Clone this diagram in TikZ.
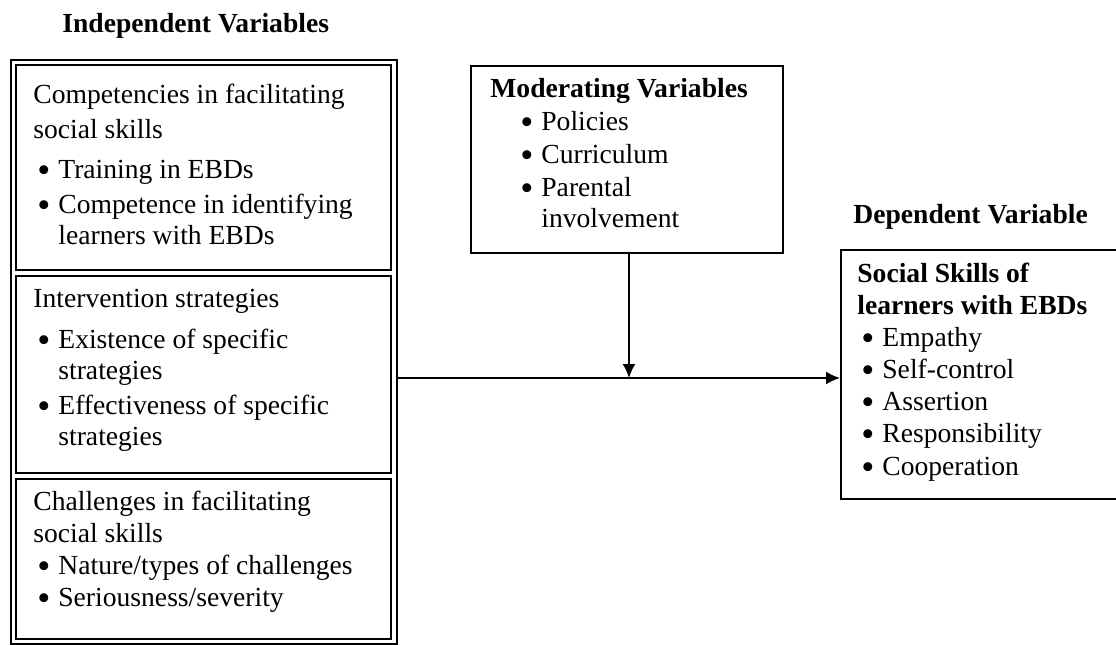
\documentclass[tikz,border=0pt]{standalone}
\usepackage{fontspec}
\setmainfont{Liberation Serif}
\usetikzlibrary{arrows.meta,positioning}

\newcommand{\bitem}[1]{\makebox[12.5pt][l]{\hspace{2pt}\smash{\raisebox{-2pt}{\scalebox{1.35}{\textbullet}}}}#1}
\newcommand{\bcont}[1]{\hspace*{12.5pt}#1}
\newcommand{\lines}[1]{\begin{tabular}[t]{@{}l@{}}#1\end{tabular}}

\begin{document}
\begin{tikzpicture}[x=0.5pt,y=-0.5pt,>={Latex[length=7pt,width=6.5pt]},
    box/.style={draw, line width=0.9pt, anchor=north west, inner sep=0pt},
    txt/.style={anchor=base west, inner sep=0pt, font=\fontsize{13.8}{15.5}\selectfont},
    head/.style={anchor=base west, inner sep=0pt, font=\fontsize{13.8}{15.5}\selectfont\bfseries}]
    \useasboundingbox (0,0) rectangle (1116,644);
    \clip (0,0) rectangle (1116,644);

    % independent variables
    \node[head] (indtitle) at (62,32) {Independent Variables};
    \node[box, minimum width=193pt, minimum height=292pt] (indep) at (10,59) {};
    \node[box, minimum width=187.5pt, minimum height=102.5pt] (comp) at (15,64) {};
    \node[box, minimum width=187.5pt, minimum height=98.5pt] (intv) at (15,275) {};
    \node[box, minimum width=187.5pt, minimum height=80pt] (chall) at (15,478) {};
    \node[txt] (comptxt) at (33,103) {\lines{Competencies in facilitating\\[2pt] social skills\\[4.5pt] \bitem{Training in EBDs}\\[2pt] \bitem{Competence in identifying}\\ \bcont{learners with EBDs}}};
    \node[txt] (intvtxt) at (33,307) {\lines{Intervention strategies\\[5pt] \bitem{Existence of specific}\\ \bcont{strategies}\\[2pt] \bitem{Effectiveness of specific}\\ \bcont{strategies}}};
    \node[txt] (challtxt) at (33,510) {\lines{Challenges in facilitating\\[0.5pt] social skills\\[0.5pt] \bitem{Nature/types of challenges}\\[0.5pt] \bitem{Seriousness/severity}}};

    % moderating variables
    \node[box, minimum width=156pt, minimum height=93.5pt] (mod) at (470,65) {};
    \node[txt] (modtxt) at (490,97) {\lines{\textbf{Moderating Variables}\\[1pt] \hspace*{13pt}\bitem{Policies}\\[1pt] \hspace*{13pt}\bitem{Curriculum}\\[1pt] \hspace*{13pt}\bitem{Parental}\\ \hspace*{13pt}\bcont{involvement}}};

    % dependent variable
    \node[head] (deptitle) at (853,223) {Dependent Variable};
    \node[box, minimum width=140pt, minimum height=124.5pt] (dep) at (840,249) {};
    \node[txt] (deptxt) at (857,282) {\lines{\textbf{Social Skills of}\\[0.5pt] \textbf{learners with EBDs}\\[0.5pt] \bitem{Empathy}\\[0.5pt] \bitem{Self-control}\\[0.5pt] \bitem{Assertion}\\[0.5pt] \bitem{Responsibility}\\[1pt] \bitem{Cooperation}}};

    \coordinate (junct) at (629,378);
    \draw[->, line width=0.9pt] (indep.east |- junct) -- (dep.west |- junct);
    \draw[->, line width=0.9pt] (mod.south -| junct) -- (junct);
\end{tikzpicture}
\end{document}
